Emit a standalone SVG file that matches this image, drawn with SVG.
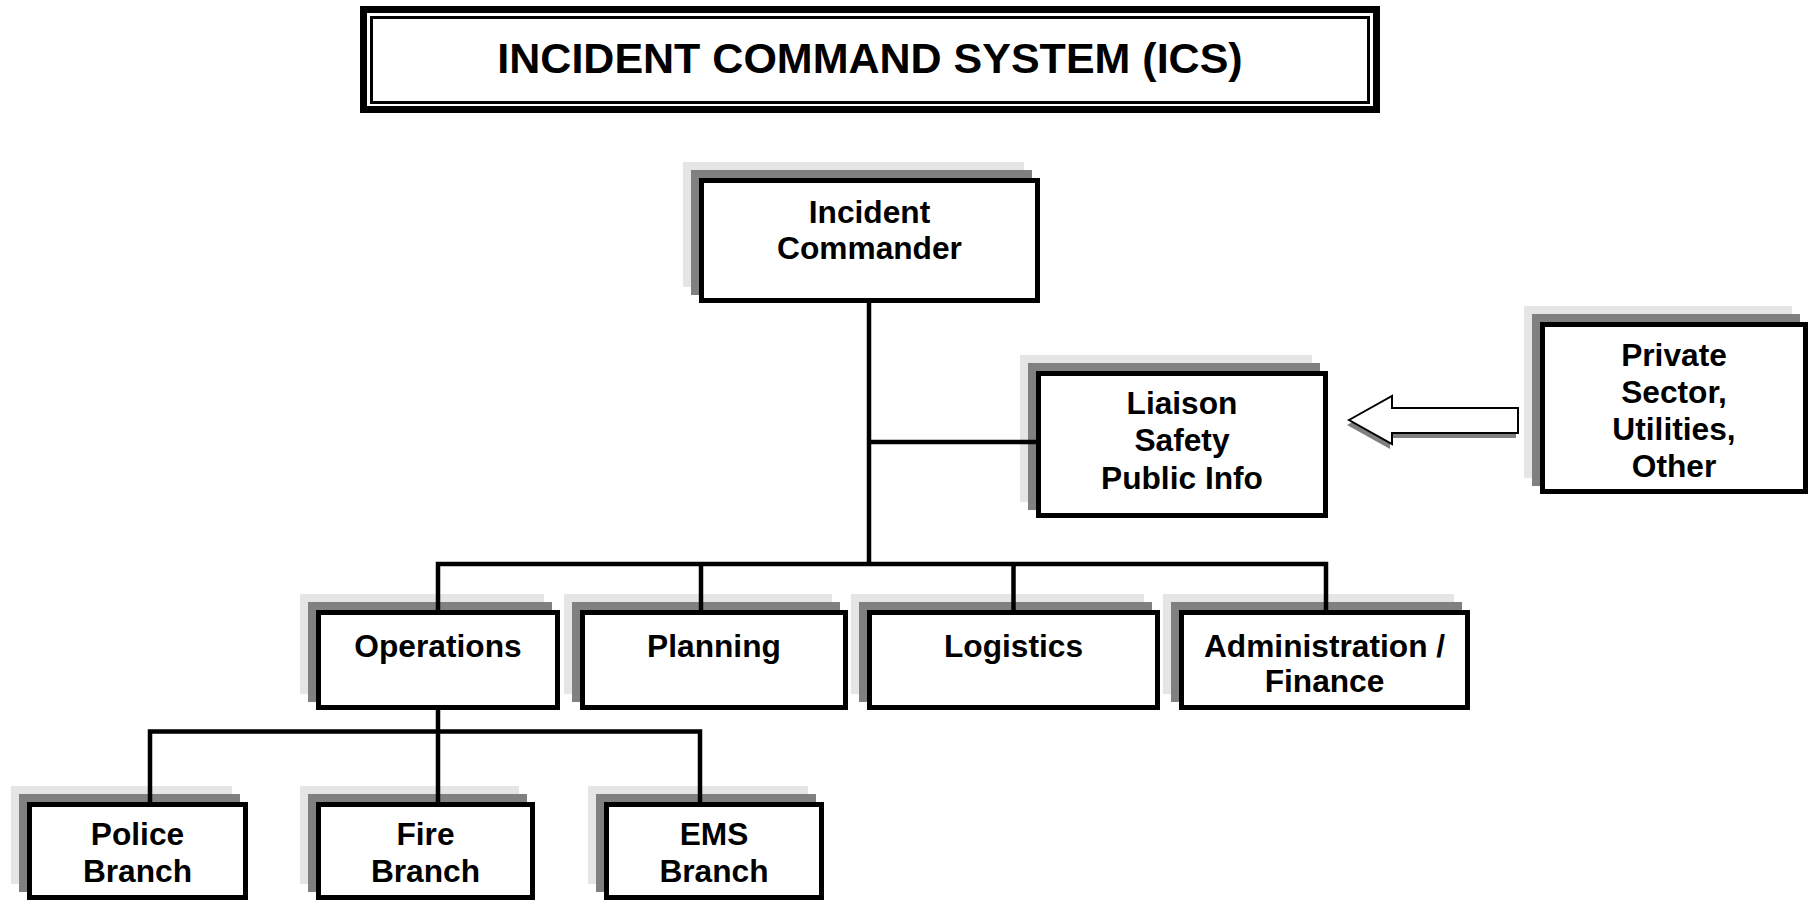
<svg xmlns="http://www.w3.org/2000/svg" width="1812" height="901" viewBox="0 0 1812 901">
<defs>
<style>
.bg{fill:#ffffff}
.sh1{fill:#e5e5e5}
.sh2{fill:#808080}
.box{fill:#ffffff;stroke:#000000;stroke-width:5}
.t{font-family:"Liberation Sans",Arial,sans-serif;font-weight:bold;font-size:31.7px;fill:#000000;text-anchor:middle}
.title{font-family:"Liberation Sans",Arial,sans-serif;font-weight:bold;font-size:43px;fill:#000000;text-anchor:middle}
.conn{fill:none;stroke:#000000;stroke-width:4.5;stroke-linejoin:miter;stroke-linecap:butt}
</style>
</defs>
<rect class="bg" x="0" y="0" width="1812" height="901"/>

<g id="title">
<rect x="363.5" y="9.5" width="1013" height="100" fill="#ffffff" stroke="#000000" stroke-width="7"/>
<rect x="371.5" y="17.5" width="997" height="85" fill="none" stroke="#000000" stroke-width="3"/>
<text class="title" x="870" y="73">INCIDENT COMMAND SYSTEM (ICS)</text>
</g>

<g id="arrow">
<polygon points="1347,425 1390,449 1390,438 1516,438 1516,413 1390,413 1390,401" fill="#808080"/>
<polygon points="1349,420 1392,396 1392,408 1518,408 1518,433 1392,433 1392,444" fill="#ffffff" stroke="#000000" stroke-width="2" stroke-linejoin="miter"/>
</g>

<g id="incident-commander">
<rect class="sh1" x="683" y="162" width="341" height="125"/>
<rect class="sh2" x="691" y="170" width="341" height="125"/>
<rect class="box" x="701.5" y="180.5" width="336" height="120"/>
<text class="t" x="869.5" y="223">Incident</text>
<text class="t" x="869.5" y="259">Commander</text>
</g>

<g id="liaison">
<rect class="sh1" x="1020" y="355" width="292" height="147"/>
<rect class="sh2" x="1028" y="363" width="292" height="147"/>
<rect class="box" x="1038.5" y="373.5" width="287" height="142"/>
<text class="t" x="1182" y="414">Liaison</text>
<text class="t" x="1182" y="451">Safety</text>
<text class="t" x="1182" y="489">Public Info</text>
</g>

<g id="private-sector">
<rect class="sh1" x="1524" y="306" width="268" height="172"/>
<rect class="sh2" x="1532" y="314" width="268" height="172"/>
<rect class="box" x="1542.5" y="324.5" width="263" height="167"/>
<text class="t" x="1674" y="366">Private</text>
<text class="t" x="1674" y="403">Sector,</text>
<text class="t" x="1674" y="440">Utilities,</text>
<text class="t" x="1674" y="477">Other</text>
</g>

<g id="operations">
<rect class="sh1" x="300" y="594" width="244" height="100"/>
<rect class="sh2" x="308" y="602" width="244" height="100"/>
<rect class="box" x="318.5" y="612.5" width="239" height="95"/>
<text class="t" x="438" y="657">Operations</text>
</g>

<g id="planning">
<rect class="sh1" x="564" y="594" width="268" height="100"/>
<rect class="sh2" x="572" y="602" width="268" height="100"/>
<rect class="box" x="582.5" y="612.5" width="263" height="95"/>
<text class="t" x="714" y="657">Planning</text>
</g>

<g id="logistics">
<rect class="sh1" x="851" y="594" width="293" height="100"/>
<rect class="sh2" x="859" y="602" width="293" height="100"/>
<rect class="box" x="869.5" y="612.5" width="288" height="95"/>
<text class="t" x="1013.5" y="657">Logistics</text>
</g>

<g id="administration-finance">
<rect class="sh1" x="1163" y="594" width="291" height="100"/>
<rect class="sh2" x="1171" y="602" width="291" height="100"/>
<rect class="box" x="1181.5" y="612.5" width="286" height="95"/>
<text class="t" x="1324.5" y="657">Administration /</text>
<text class="t" x="1324.5" y="692">Finance</text>
</g>

<g id="police-branch">
<rect class="sh1" x="11" y="786" width="221" height="98"/>
<rect class="sh2" x="19" y="794" width="221" height="98"/>
<rect class="box" x="29.5" y="804.5" width="216" height="93"/>
<text class="t" x="137.5" y="845">Police</text>
<text class="t" x="137.5" y="882">Branch</text>
</g>

<g id="fire-branch">
<rect class="sh1" x="300" y="786" width="219" height="98"/>
<rect class="sh2" x="308" y="794" width="219" height="98"/>
<rect class="box" x="318.5" y="804.5" width="214" height="93"/>
<text class="t" x="425.5" y="845">Fire</text>
<text class="t" x="425.5" y="882">Branch</text>
</g>

<g id="ems-branch">
<rect class="sh1" x="588" y="786" width="220" height="98"/>
<rect class="sh2" x="596" y="794" width="220" height="98"/>
<rect class="box" x="606.5" y="804.5" width="215" height="93"/>
<text class="t" x="714" y="845">EMS</text>
<text class="t" x="714" y="882">Branch</text>
</g>

<g id="connectors">
<path class="conn" d="M869 302 V564"/>
<path class="conn" d="M869 442 H1037"/>
<path class="conn" d="M438 611 V564 H1326 V611"/>
<path class="conn" d="M701 564 V611"/>
<path class="conn" d="M1013.5 564 V611"/>
<path class="conn" d="M438 709 V731.5"/>
<path class="conn" d="M150 803 V731.5 H700 V803"/>
<path class="conn" d="M438 731.5 V803"/>
</g>
</svg>
